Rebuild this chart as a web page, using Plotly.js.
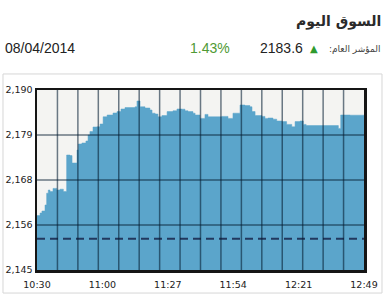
<!DOCTYPE html>
<html>
<head>
<meta charset="utf-8">
<script src="https://cdn.plot.ly/plotly-3.0.1.min.js"></script>
<style>
html,body{margin:0;padding:0;background:#fff;}
#chart{width:386px;height:300px;}
</style>
</head>
<body>
<div id="chart"></div>
<script>
// minutes after 10:30
var minutes = [0,1.3,2.1,3.4,4.1,4.8,5.5,6.8,8.4,9.8,11.2,12.6,14.0,14.9,17.0,17.6,19.1,20.8,21.7,22.5,23.8,25.5,26.8,28.1,29.8,32.3,34.0,35.7,37.4,39.5,41.7,42.5,43.8,45.9,48.0,48.9,50.2,51.4,53.1,55.3,57.8,59.5,61.6,62.9,64.2,66.3,67.2,69.3,71.4,72.7,75.7,78.6,81.2,83.3,85.4,86.3,88.4,90.5,91.4,92.7,95.6,96.9,98.2,100.3,101.9,104.1,106.1,108.3,109.7,111.8,113.2,114.4,120.3,127.5,128.1,129.1,133.1,139];
var indexValues = [2158.6,2159.25,2159.75,2161.25,2164.2,2165,2164.6,2165.4,2165,2165.2,2164.6,2173.75,2173.6,2171.75,2175,2176.5,2176.75,2177.25,2178.75,2179.6,2180.75,2180.8,2181.5,2183.3,2183.75,2184.25,2184.6,2185.25,2185.6,2185.6,2185.8,2187.25,2185.8,2185.5,2185.0,2184.2,2184.0,2183.3,2183.6,2184.6,2184.8,2185.25,2185.2,2184.8,2184.6,2184.2,2183.75,2182.9,2183.9,2183.3,2183.3,2183.4,2182.9,2184.2,2184.2,2186.25,2186.1,2185.8,2184.6,2183.6,2183.4,2182.9,2183.0,2182.7,2182.25,2182.1,2181.4,2180.8,2182.1,2182.25,2181.4,2181.1,2181.1,2181.1,2180.4,2183.75,2183.7,2183.6];
var previousClose = 2152.8;
var sessionEnd = 139;
var xTickLabels = ['10:30','11:00','11:27','11:54','12:21','12:49'];
var yTickValues = [2145,2156.25,2167.5,2178.75,2190];
var yTickLabels = ['2,145','2,156','2,168','2,179','2,190'];
var gridDivisions = 16;
var headerTitle = 'السوق اليوم';
var headerDate = '08/04/2014';
var headerChange = '1.43%';
var headerIndex = '2183.6';
var headerIndexLabel = 'المؤشر العام:';

var xTickValues = xTickLabels.map(function(_, i){ return i * sessionEnd / (xTickLabels.length - 1); });

var gridColor = 'rgba(5,30,50,0.58)';
var shapes = [];
for (var i = 1; i < gridDivisions; i++) {
  var gx = i * sessionEnd / gridDivisions;
  shapes.push({type:'line', xref:'x', yref:'paper', x0:gx, x1:gx, y0:0, y1:1, layer:'above', line:{color:gridColor, width:1.5}});
}
yTickValues.slice(1, -1).forEach(function(v){
  shapes.push({type:'line', xref:'paper', yref:'y', x0:0, x1:1, y0:v, y1:v, layer:'above', line:{color:gridColor, width:1.5}});
});
// outer frame
shapes.push({type:'rect', xref:'paper', yref:'paper', x0:-0.104, x1:1.055, y0:-0.128, y1:1.089, layer:'below', line:{color:'#d6d6d6', width:1}, fillcolor:'rgba(0,0,0,0)'});

var traces = [
  {x: minutes, y: indexValues, type:'scatter', mode:'lines', line:{shape:'hv', width:0.5, color:'#5ba5cb'}, fill:'tozeroy', fillcolor:'#5ba5cb', hoverinfo:'skip'},
  {x: [0, sessionEnd], y: [previousClose, previousClose], type:'scatter', mode:'lines', line:{color:'#22385e', width:2, dash:'8px,5px'}, hoverinfo:'skip'}
];

var annFont = 'Liberation Sans, Arial, sans-serif';
var RLM = '\u200F';
var annotations = [
  {text: '<b>' + headerTitle + '</b>', xref:'paper', yref:'paper', x:1.058, y:1.378, xanchor:'right', yanchor:'middle', showarrow:false, font:{family:'DejaVu Sans', size:14, color:'#2a2a2a'}},
  {text: headerDate, xref:'paper', yref:'paper', x:-0.104, y:1.233, xanchor:'left', yanchor:'middle', showarrow:false, font:{family:annFont, size:14, color:'#222'}},
  {text: headerChange, xref:'paper', yref:'paper', x:0.4627, y:1.233, xanchor:'left', yanchor:'middle', showarrow:false, font:{family:annFont, size:14, color:'#4f9a34'}},
  {text: headerIndex, xref:'paper', yref:'paper', x:0.676, y:1.233, xanchor:'left', yanchor:'middle', showarrow:false, font:{family:annFont, size:14, color:'#222'}},
  {text: '▲', xref:'paper', yref:'paper', x:0.8465, y:1.228, xanchor:'center', yanchor:'middle', showarrow:false, font:{family:'DejaVu Sans', size:10, color:'#2e9a2e'}},
  {text: RLM + headerIndexLabel + RLM, xref:'paper', yref:'paper', x:1.055, y:1.228, xanchor:'right', yanchor:'middle', showarrow:false, font:{family:'DejaVu Sans', size:9, color:'#444'}}
];

var layout = {
  width:386, height:300,
  margin:{l:37, r:22, t:90, b:30, pad:0},
  paper_bgcolor:'#ffffff',
  plot_bgcolor:'#f4f4f2',
  showlegend:false,
  xaxis:{range:[0, sessionEnd], tickvals:xTickValues, ticktext:xTickLabels, showgrid:false, zeroline:false,
         showline:true, mirror:true, linecolor:'#151515', linewidth:2.5, ticks:'', ticklabelstandoff:4,
         tickfont:{family:'DejaVu Sans', size:9.5, color:'#222'}, fixedrange:true},
  yaxis:{range:[2145, 2190], tickvals:yTickValues, ticktext:yTickLabels, showgrid:false, zeroline:false,
         showline:true, mirror:true, linecolor:'#151515', linewidth:2.5, ticks:'',
         tickfont:{family:'DejaVu Sans', size:9.5, color:'#222'}, fixedrange:true},
  shapes: shapes,
  annotations: annotations
};

Plotly.newPlot('chart', traces, layout, {displayModeBar:false, staticPlot:true});
</script>
</body>
</html>
